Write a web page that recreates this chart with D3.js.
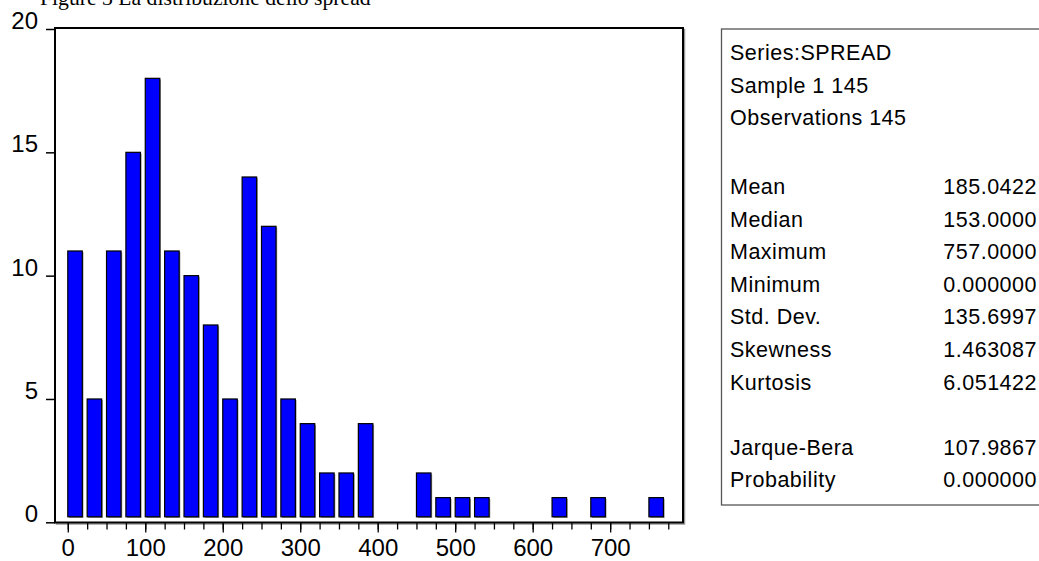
<!DOCTYPE html>
<html>
<head>
<meta charset="utf-8">
<script src="https://cdn.jsdelivr.net/npm/d3@7"></script>
<style>
  html, body { margin: 0; padding: 0; background: #fff; }
  svg { display: block; }
  .tick text { font-family: "Liberation Sans", Arial, sans-serif; }
</style>
</head>
<body>
<svg id="chart" width="1039" height="561"></svg>
<script>
// Histogram of SPREAD: bin lower edges (width 25) and counts
const binStarts = [0, 25, 50, 75, 100, 125, 150, 175, 200, 225, 250, 275, 300, 325, 350, 375,
                   400, 425, 450, 475, 500, 525, 550, 575, 600, 625, 650, 675, 700, 725, 750];
const counts    = [11, 5, 11, 15, 18, 11, 10, 8, 5, 14, 12, 5, 4, 2, 2, 4,
                   0, 0, 2, 1, 1, 1, 0, 0, 0, 1, 0, 1, 0, 0, 1];
const binWidth = 25;

const xTickValues = [0, 100, 200, 300, 400, 500, 600, 700];
const yTickValues = [0, 5, 10, 15, 20];

// Summary statistics panel
const headerLines = ["Series:SPREAD", "Sample 1 145", "Observations 145"];
const statNames  = ["Mean", "Median", "Maximum", "Minimum", "Std. Dev.", "Skewness", "Kurtosis"];
const statValues = ["185.0422", "153.0000", "757.0000", "0.000000", "135.6997", "1.463087", "6.051422"];
const testNames  = ["Jarque-Bera", "Probability"];
const testValues = ["107.9867", "0.000000"];

const titleText = "Figure 3 La distribuzione dello spread";

const svg = d3.select("#chart");
const sans = "'Liberation Sans', Arial, sans-serif";

// Plot frame
const frame = { left: 55, top: 28, right: 683, bottom: 522.5 };

const x = d3.scaleLinear().domain([-16.5, 794]).range([frame.left, frame.right]);
const y = d3.scaleLinear().domain([0, 20]).range([522.3, 29]);

// Title, running along the top edge of the page
svg.append("text")
  .attr("x", 40).attr("y", 5)
  .attr("font-family", "'Liberation Serif', 'Times New Roman', serif")
  .attr("font-size", 21.7)
  .attr("fill", "#000")
  .text(titleText);

// Frame shadow + frame
svg.append("rect")
  .attr("x", frame.left + 1.5).attr("y", frame.top + 1.5)
  .attr("width", frame.right - frame.left).attr("height", frame.bottom - frame.top)
  .attr("fill", "none").attr("stroke", "#999").attr("stroke-width", 1.5);
svg.append("rect")
  .attr("x", frame.left).attr("y", frame.top)
  .attr("width", frame.right - frame.left).attr("height", frame.bottom - frame.top)
  .attr("fill", "#fff").attr("stroke", "#000").attr("stroke-width", 2);

// Bars
const data = binStarts.map((b, i) => ({ lo: b, n: counts[i] })).filter(d => d.n > 0);
const barBottom = y(0) - 5.5;
const barW = x(binWidth * 0.75) - x(0);

const bars = svg.append("g");
bars.selectAll("rect.shadow").data(data).join("rect")
  .attr("class", "shadow")
  .attr("x", d => x(d.lo) + 1.2)
  .attr("y", d => y(d.n) + 1.2)
  .attr("width", barW)
  .attr("height", d => barBottom - y(d.n))
  .attr("fill", "#9a9a9a");
bars.selectAll("rect.bar").data(data).join("rect")
  .attr("class", "bar")
  .attr("x", d => x(d.lo))
  .attr("y", d => y(d.n))
  .attr("width", barW)
  .attr("height", d => barBottom - y(d.n))
  .attr("fill", "#0000ff")
  .attr("stroke", "#000")
  .attr("stroke-width", 1.2);

// Y axis
const yAxis = d3.axisLeft(y).tickValues(yTickValues).tickSize(9).tickPadding(8);
const gy = svg.append("g").attr("transform", `translate(${frame.left},0)`).call(yAxis);
gy.select(".domain").remove();
gy.selectAll(".tick line").attr("stroke", "#000").attr("stroke-width", 1.5);
gy.selectAll(".tick text").attr("font-size", 24).attr("fill", "#000")
  .attr("font-family", sans).attr("dy", "-0.02em");

// X axis: minor ticks every 25, labelled ticks every 100
const minorTicks = d3.range(0, 776, 25);
const xMinor = d3.axisBottom(x).tickValues(minorTicks).tickSize(7).tickFormat("");
const gxm = svg.append("g").attr("transform", `translate(0,${frame.bottom})`).call(xMinor);
gxm.select(".domain").remove();
gxm.selectAll(".tick line").attr("stroke", "#000").attr("stroke-width", 1.3);

const xAxis = d3.axisBottom(x).tickValues(xTickValues).tickSize(10).tickPadding(6);
const gx = svg.append("g").attr("transform", `translate(0,${frame.bottom})`).call(xAxis);
gx.select(".domain").remove();
gx.selectAll(".tick line").attr("stroke", "#000").attr("stroke-width", 1.3);
gx.selectAll(".tick text").attr("font-size", 24).attr("fill", "#000")
  .attr("font-family", sans);

// Statistics box
const box = { left: 721.5, top: 29, bottom: 505 };
svg.append("rect")
  .attr("x", box.left).attr("y", box.top)
  .attr("width", 1039 - box.left + 20).attr("height", box.bottom - box.top)
  .attr("fill", "#fff").attr("stroke", "#555").attr("stroke-width", 1.3);

const textX = 730, valueX = 1037;
const rowStep = 32.6;
const statsG = svg.append("g")
  .attr("font-family", sans).attr("font-size", 21.5).attr("fill", "#000")
  .attr("letter-spacing", 0.5);

headerLines.forEach((t, i) => {
  statsG.append("text").attr("x", textX).attr("y", 60 + i * rowStep).text(t);
});
statNames.forEach((t, i) => {
  const yy = 194 + i * rowStep;
  statsG.append("text").attr("x", textX).attr("y", yy).text(t);
  statsG.append("text").attr("x", valueX).attr("y", yy).attr("text-anchor", "end").text(statValues[i]);
});
testNames.forEach((t, i) => {
  const yy = 194 + (statNames.length + 1 + i) * rowStep;
  statsG.append("text").attr("x", textX).attr("y", yy).text(t);
  statsG.append("text").attr("x", valueX).attr("y", yy).attr("text-anchor", "end").text(testValues[i]);
});
</script>
</body>
</html>
